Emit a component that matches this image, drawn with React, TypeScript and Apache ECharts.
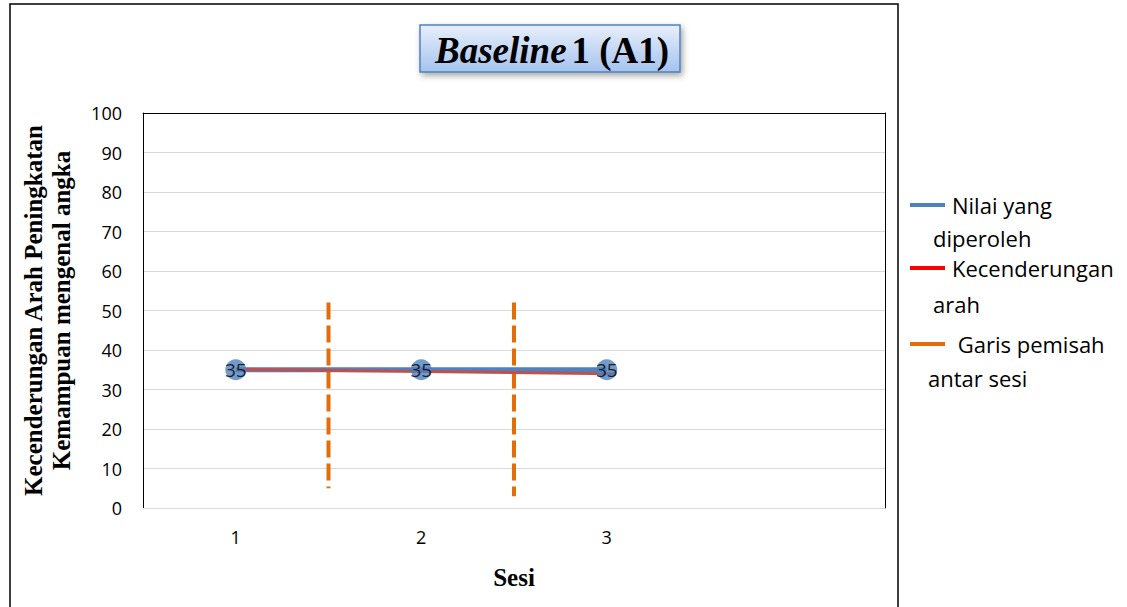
import React, { useEffect, useRef } from 'react';
import * as echarts from 'echarts';

// Sessions on the x axis (the fourth slot is left empty, as in the layout)
const sessions = ['1', '2', '3', ''];
// Score obtained in each baseline session
const scores = [35, 35, 35];
// Trend line (split-middle) end points, on the continuous session scale
const trendX = [0.5, 2.55];
const trendY = [35.1, 34.0];
// Vertical separators between sessions
const dividerX = [1, 2];
const dividerTop = [52, 52];
const dividerBottom = [5, 3];

const yMin = 0;
const yMax = 100;
const yStep = 10;

const legendItems = [
  { color: '#4f81bd', first: 'Nilai yang', second: 'diperoleh', y: 205, firstX: 952, secondX: 933, gap: 33 },
  { color: '#ff0000', first: 'Kecenderungan', second: 'arah', y: 268, firstX: 952, secondX: 933, gap: 36 },
  { color: '#e46c0a', first: ' Garis pemisah', second: 'antar sesi', y: 344, firstX: 952, secondX: 928, gap: 34 },
];

const SANS = '"Open Sans", "Noto Sans", sans-serif';
const SERIF = '"Liberation Serif", "DejaVu Serif", serif';

export default function App() {
  const ref = useRef<HTMLDivElement>(null);

  useEffect(() => {
    if (!ref.current) return;
    const chart = echarts.init(ref.current, undefined, { renderer: 'svg' });

    const legendGraphics: any[] = [];
    legendItems.forEach((it) => {
      legendGraphics.push({
        type: 'rect',
        shape: { x: 910, y: it.y - 2, width: 35, height: 4 },
        style: { fill: it.color },
      });
      legendGraphics.push({
        type: 'text',
        x: it.firstX,
        y: it.y,
        style: { text: it.first, fontFamily: SANS, fontSize: 22, fill: '#000', verticalAlign: 'middle' },
      });
      legendGraphics.push({
        type: 'text',
        x: it.secondX,
        y: it.y + it.gap,
        style: { text: it.second, fontFamily: SANS, fontSize: 22, fill: '#000', verticalAlign: 'middle' },
      });
    });

    const dividerSeries = dividerX.map((x, i) => ({
      type: 'line',
      xAxisIndex: 1,
      yAxisIndex: 0,
      data: [
        [x, dividerTop[i]],
        [x, dividerBottom[i]],
      ],
      symbol: 'none',
      lineStyle: { color: '#e46c0a', width: 4, type: [17, 6], cap: 'butt' },
      z: 2,
      silent: true,
    }));

    chart.setOption({
      animation: false,
      backgroundColor: '#fff',
      title: {
        text: '{i|Baseline} {b|1 (A1)}',
        left: 430,
        top: 27,
        textStyle: {
          rich: {
            i: { fontFamily: SERIF, fontSize: 37, fontWeight: 'bold', fontStyle: 'italic', color: '#000' },
            b: { fontFamily: SERIF, fontSize: 37, fontWeight: 'bold', color: '#000' },
          },
        },
        z: 10,
      },
      grid: { left: 143, top: 113, right: 242, bottom: 99, containLabel: false, outerBoundsMode: 'none' },
      xAxis: [
        {
          type: 'category',
          data: sessions,
          boundaryGap: true,
          axisLine: { show: true, lineStyle: { color: '#d9d9d9', width: 1 } },
          axisTick: { show: false },
          axisLabel: { fontFamily: SANS, fontSize: 18, color: '#000', margin: 20 },
          name: 'Sesi',
          nameLocation: 'middle',
          nameGap: 57,
          nameTextStyle: { fontFamily: SERIF, fontSize: 25, fontWeight: 'bold', color: '#000' },
        },
        {
          type: 'value',
          position: 'top',
          min: 0,
          max: 4,
          axisLine: { show: true, onZero: false, lineStyle: { color: '#000', width: 1 } },
          axisTick: { show: false },
          axisLabel: { show: false },
          splitLine: { show: false },
        },
      ],
      yAxis: [
        {
          type: 'value',
          min: yMin,
          max: yMax,
          interval: yStep,
          axisLine: { show: true, lineStyle: { color: '#000', width: 1 } },
          axisTick: { show: false },
          axisLabel: { fontFamily: SANS, fontSize: 18, color: '#000', margin: 21 },
          splitLine: { show: true, lineStyle: { color: '#d9d9d9', width: 1 } },
          name: 'Kecenderungan Arah Peningkatan\nKemampuan mengenal angka',
          nameLocation: 'middle',
          nameRotate: 90,
          nameGap: 68,
          nameTextStyle: { fontFamily: SERIF, fontSize: 25, fontWeight: 'bold', color: '#000', lineHeight: 28 },
        },
        {
          type: 'value',
          position: 'right',
          min: yMin,
          max: yMax,
          interval: yStep,
          axisLine: { show: true, lineStyle: { color: '#000', width: 1 } },
          axisTick: { show: false },
          axisLabel: { show: false },
          splitLine: { show: false },
        },
      ],
      graphic: [
        {
          type: 'rect',
          shape: { x: 10, y: 4, width: 888, height: 620 },
          style: { fill: 'none', stroke: '#000', lineWidth: 1.5 },
          z: -1,
          silent: true,
        },
        {
          type: 'rect',
          shape: { x: 420, y: 25, width: 260, height: 47 },
          style: {
            fill: new echarts.graphic.LinearGradient(0, 0, 0, 1, [
              { offset: 0, color: '#e8effb' },
              { offset: 1, color: '#a5c3ee' },
            ]),
            stroke: '#4f81bd',
            lineWidth: 1.5,
            shadowBlur: 6,
            shadowOffsetX: 2,
            shadowOffsetY: 3,
            shadowColor: 'rgba(0,0,0,0.35)',
          },
          z: 1,
          silent: true,
        },
        ...legendGraphics,
      ],
      series: [
        {
          name: 'Nilai yang diperoleh',
          type: 'line',
          data: scores,
          symbol: 'none',
          lineStyle: { color: '#4f81bd', width: 5 },
          z: 2,
        },
        {
          name: 'Kecenderungan arah',
          type: 'line',
          xAxisIndex: 1,
          data: trendX.map((x, i) => [x, trendY[i]]),
          symbol: 'none',
          lineStyle: { color: '#c0504d', width: 3 },
          z: 3,
        },
        {
          name: 'Nilai yang diperoleh (titik)',
          type: 'scatter',
          data: scores,
          symbol: 'circle',
          symbolSize: 21,
          itemStyle: { color: '#4f81bd' },
          label: {
            show: true,
            position: 'inside',
            color: '#000',
            fontFamily: SANS,
            fontSize: 19,
          },
          z: 4,
        },
        ...dividerSeries,
      ],
    });

    return () => chart.dispose();
  }, []);

  return (
    <div
      ref={ref}
      style={{ position: 'absolute', left: 0, top: 0, width: 1127, height: 607 }}
    />
  );
}
